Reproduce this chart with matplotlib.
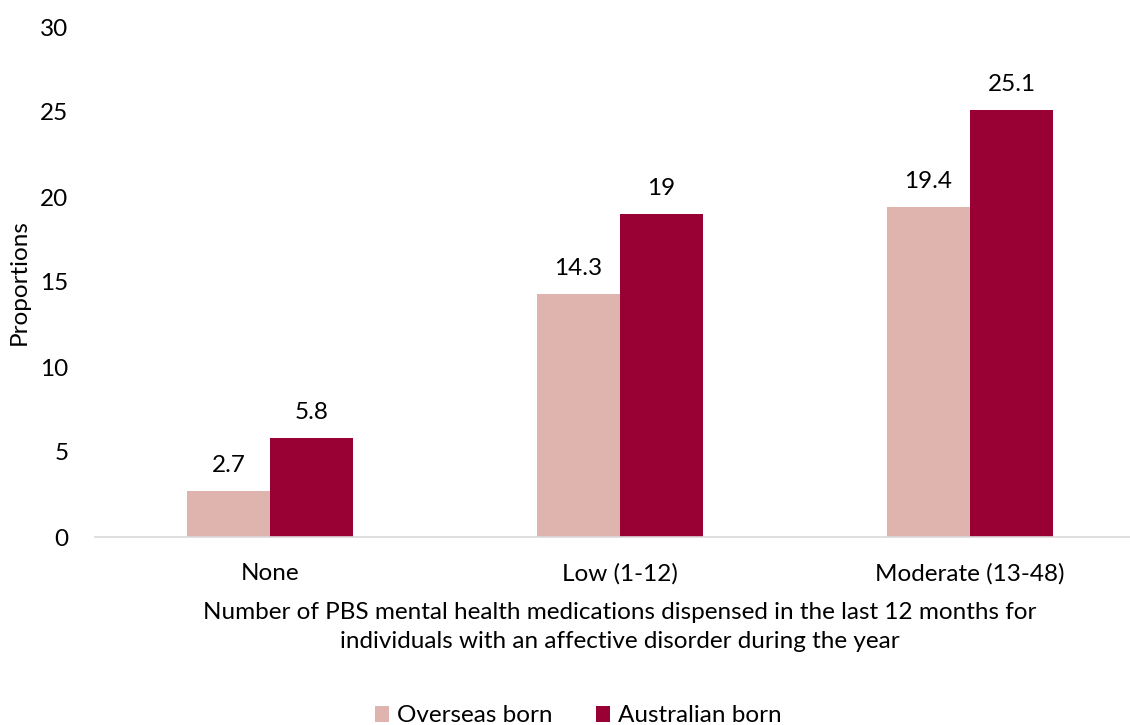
import matplotlib
matplotlib.use("Agg")
import matplotlib.pyplot as plt
import numpy as np

categories = ["None", "Low (1-12)", "Moderate (13-48)"]
overseas = [2.7, 14.3, 19.4]
australian = [5.8, 19, 25.1]
series_names = ["Overseas born", "Australian born"]
colors = ["#E0B4AE", "#990033"]

plt.rcParams["font.family"] = ["Lato", "DejaVu Sans"]
FS = 17.5

W, H = 1130, 725
fig = plt.figure(figsize=(W / 100, H / 100), dpi=100)
left, right = 95, 1130
bottom_px, top_px = 537, 27
ax = fig.add_axes([left / W, (H - bottom_px) / H, (right - left) / W, (bottom_px - top_px) / H])

x = np.arange(len(categories))
bw = 0.237
b1 = ax.bar(x - bw / 2, overseas, bw, color=colors[0], label=series_names[0])
b2 = ax.bar(x + bw / 2, australian, bw, color=colors[1], label=series_names[1])

for bars, vals in ((b1, overseas), (b2, australian)):
    for rect, v in zip(bars, vals):
        ax.annotate(f"{v:g}", (rect.get_x() + rect.get_width() / 2, v),
                    xytext=(0, 11), textcoords="offset points",
                    ha="center", va="bottom", fontsize=FS, color="#000000")

ax.set_ylim(0, 30)
ax.set_yticks(range(0, 31, 5))
ax.set_xlim(-0.5, -0.5 + 3 * (right - left) / (1145 - left))
ax.set_xticks(x)
ax.set_xticklabels(categories)
ax.tick_params(axis="both", length=0, labelsize=FS, colors="#000000")
ax.tick_params(axis="y", pad=19)
ax.tick_params(axis="x", pad=19)

for s in ("top", "right", "left"):
    ax.spines[s].set_visible(False)
ax.spines["bottom"].set_color("#D9D9D9")
ax.spines["bottom"].set_linewidth(1.2)

ax.set_ylabel("Proportions", fontsize=FS, labelpad=8)
fig.text(620 / W, 1 - 627 / H,
         "Number of PBS mental health medications dispensed in the last 12 months for\n"
         "individuals with an affective disorder during the year",
         ha="center", va="center", fontsize=FS, linespacing=1.5)

fig.legend(handles=[b1, b2], labels=series_names, loc="center",
           bbox_to_anchor=(578 / W, 1 - 716 / H), ncol=2, frameon=False,
           fontsize=FS, handlelength=0.6, handleheight=0.6, handletextpad=0.3,
           columnspacing=1.8)

fig.savefig("out.png", dpi=100)
